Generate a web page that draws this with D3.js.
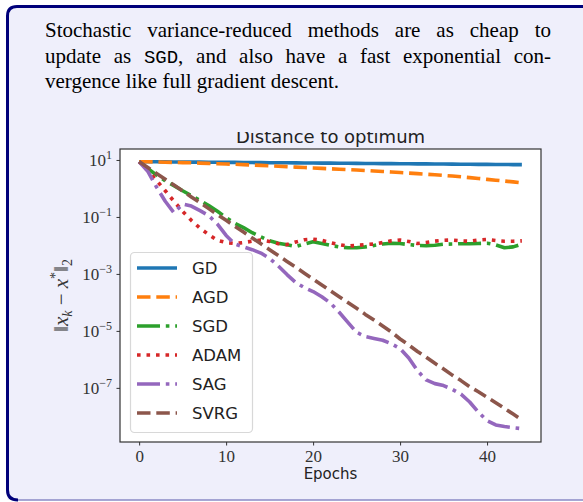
<!DOCTYPE html>
<html>
<head>
<meta charset="utf-8">
<script src="https://cdn.jsdelivr.net/npm/d3@7"></script>
<style>
  html, body { margin: 0; padding: 0; background: #ffffff; }
  svg { display: block; }
</style>
</head>
<body>
<div id="my_dataviz"></div>
<script>
// data (one value per epoch)
var epochs = d3.range(0, 45);

var gdVals = [8.71, 8.66, 8.62, 8.57, 8.52, 8.48, 8.43, 8.38, 8.34, 8.29, 8.25, 8.20, 8.16, 8.11, 8.07,
  8.02, 7.98, 7.94, 7.89, 7.85, 7.81, 7.76, 7.72, 7.68, 7.64, 7.60, 7.55, 7.51, 7.47, 7.43,
  7.39, 7.35, 7.31, 7.27, 7.23, 7.19, 7.15, 7.11, 7.07, 7.03, 6.99, 6.96, 6.92, 6.88, 6.84];

var agdVals = [8.71, 8.61, 8.51, 8.36, 8.22, 8.09, 7.94, 7.76, 7.59, 7.41, 7.24, 7.05, 6.84, 6.64, 6.46,
  6.24, 6.03, 5.82, 5.62, 5.43, 5.25, 5.07, 4.90, 4.73, 4.57, 4.42, 4.27, 4.10, 3.94, 3.78,
  3.63, 3.47, 3.31, 3.16, 3.02, 2.87, 2.72, 2.56, 2.40, 2.24, 2.09, 1.95, 1.82, 1.70, 1.58];

var sgdVals = [8.71, 5.0, 2.95, 1.86, 1.26, 0.83, 0.56, 0.38, 0.25, 0.158, 9.5e-2, 6.0e-2, 4.2e-2, 2.8e-2, 2.0e-2,
  1.45e-2, 1.2e-2, 1.05e-2, 9.1e-3, 1.12e-2, 1.35e-2, 1.17e-2, 1.0e-2, 8.9e-3, 8.3e-3, 8.3e-3, 8.9e-3, 1.0e-2, 1.12e-2, 1.2e-2,
  1.17e-2, 1.07e-2, 1.0e-2, 9.8e-3, 1.02e-2, 1.1e-2, 1.12e-2, 1.15e-2, 1.15e-2, 1.17e-2, 1.2e-2, 1.05e-2, 8.3e-3, 8.9e-3, 1.12e-2];

var adamVals = [8.71, 4.17, 1.91, 0.83, 0.355, 0.158, 7.6e-2, 4.0e-2, 2.4e-2, 1.51e-2, 1.26e-2, 1.17e-2, 1.26e-2, 1.41e-2, 1.55e-2,
  1.38e-2, 1.15e-2, 1.07e-2, 1.32e-2, 1.58e-2, 1.66e-2, 1.51e-2, 1.26e-2, 1.07e-2, 9.5e-3, 1.0e-2, 1.07e-2, 1.12e-2, 1.26e-2, 1.45e-2,
  1.55e-2, 1.38e-2, 1.17e-2, 1.26e-2, 1.41e-2, 1.51e-2, 1.55e-2, 1.45e-2, 1.41e-2, 1.55e-2, 1.62e-2, 1.48e-2, 1.41e-2, 1.41e-2, 1.45e-2];

var sagVals = [8.71, 3.98, 1.12, 0.355, 0.141, 0.282, 0.240, 0.166, 0.112, 5.6e-2, 2.24e-2, 1.12e-2, 8.9e-3, 7.1e-3, 5.4e-3,
  3.5e-3, 1.9e-3, 9.5e-4, 5.0e-4, 3.3e-4, 2.4e-4, 1.58e-4, 9.5e-5, 4.5e-5, 2.0e-5, 8.9e-6, 6.3e-6, 5.4e-6, 4.7e-6, 3.5e-6,
  2.4e-6, 1.12e-6, 4.0e-7, 1.9e-7, 1.41e-7, 1.2e-7, 8.9e-8, 6.0e-8, 3.2e-8, 1.41e-8, 7.1e-9, 5.0e-9, 4.4e-9, 4.0e-9, 3.7e-9];

var svrgVals = [8.71, 5.42, 3.37, 2.10, 1.31, 0.813, 0.506, 0.315, 0.196, 0.122, 7.6e-2, 4.7e-2, 2.94e-2, 1.83e-2, 1.14e-2,
  7.1e-3, 4.4e-3, 2.74e-3, 1.71e-3, 1.06e-3, 6.6e-4, 4.1e-4, 2.56e-4, 1.59e-4, 9.9e-5, 6.2e-5, 3.8e-5, 2.39e-5, 1.49e-5, 9.2e-6,
  5.2e-6, 3.2e-6, 1.9e-6, 1.2e-6, 7.3e-7, 4.6e-7, 2.8e-7, 1.8e-7, 1.1e-7, 7.3e-8, 4.7e-8, 3.0e-8, 1.9e-8, 1.2e-8, 7.5e-9];

var seriesNames = ["GD", "AGD", "SGD", "ADAM", "SAG", "SVRG"];
var seriesVals = [gdVals, agdVals, sgdVals, adamVals, sagVals, svrgVals];
var seriesColors = ["#1f77b4", "#ff7f0e", "#2ca02c", "#d62728", "#9467bd", "#8c564b"];
var seriesDash = [null, "13.5,5.8", "23,5.8,3.6,5.8", "3.6,5.9", "23,5.8,3.6,5.8", "13.5,5.8"];

var xTicks = [0, 10, 20, 30, 40];
var yTickExps = [1, -1, -3, -5, -7];

var introLines = [
  ["Stochastic variance-reduced methods are as cheap to"],
  ["update as ", "SGD", ", and also have a fast exponential con-"],
  ["vergence like full gradient descent."]
];

// page
var W = 583, H = 502;
var svg = d3.select("#my_dataviz")
  .append("svg")
    .attr("width", W)
    .attr("height", H);

// the framed box
svg.append("rect")
  .attr("x", 0).attr("y", 0).attr("width", W).attr("height", H)
  .attr("fill", "#ffffff");
svg.append("path")
  .attr("d", "M7.5,500 L7.5,16 Q7.5,6.5 17,6.5 L583,6.5 L583,500 Z")
  .attr("fill", "#efeffb");
svg.append("path")
  .attr("d", "M18,500 Q7.5,500 7.5,490 L7.5,16 Q7.5,6.5 17,6.5 L583,6.5")
  .attr("fill", "none")
  .attr("stroke", "#00007a")
  .attr("stroke-width", 3);
svg.append("line")
  .attr("x1", 18).attr("x2", 583).attr("y1", 500).attr("y2", 500)
  .attr("stroke", "#8a8ac6")
  .attr("stroke-width", 1.5);

// intro text, first two lines justified to the right margin by word spacing
var introY = [37, 62.5, 88];
var textLeft = 45, textRight = 551;
introLines.forEach(function(parts, i) {
  var t = svg.append("text")
    .attr("x", textLeft)
    .attr("y", introY[i])
    .style("font-family", "'Liberation Serif'")
    .style("font-size", "21px")
    .attr("fill", "#000");
  parts.forEach(function(p) {
    var s = t.append("tspan").text(p);
    if (p == "SGD") {
      s.style("font-family", "'Liberation Mono'").style("font-size", "19px");
    }
  });
  if (i < 2) {
    var natural = t.node().getComputedTextLength();
    var nSpaces = parts.join("").split(" ").length - 1;
    t.style("word-spacing", ((textRight - textLeft - natural) / nSpaces) + "px");
  }
});

// set the dimensions and margins of the graph
var margin = {top: 149, right: 42, bottom: 60, left: 120},
    width = W - margin.left - margin.right,
    height = H - margin.top - margin.bottom;

var g = svg.append("g")
  .attr("transform", "translate(" + margin.left + "," + margin.top + ")");

var x = d3.scaleLinear()
  .domain([-2.2, 46.2])
  .range([0, width]);

var y = d3.scaleLog()
  .domain([Math.pow(10, -8.9), Math.pow(10, 1.385)])
  .range([height, 0]);

g.append("rect")
  .attr("width", width).attr("height", height)
  .attr("fill", "#ffffff");

g.append("defs").append("clipPath").attr("id", "plotclip")
  .append("rect").attr("width", width).attr("height", height);

// lines
var line = d3.line()
  .x(function(d) { return x(d[0]); })
  .y(function(d) { return y(d[1]); });

var plot = g.append("g").attr("clip-path", "url(#plotclip)");
seriesVals.forEach(function(vals, i) {
  var pts = epochs.map(function(e, j) { return [e, vals[j]]; });
  plot.append("path")
    .datum(pts)
    .attr("d", line)
    .attr("fill", "none")
    .attr("stroke", seriesColors[i])
    .attr("stroke-width", 3.6)
    .attr("stroke-linejoin", "round")
    .attr("stroke-dasharray", seriesDash[i]);
});

// X axis
var xAxis = g.append("g")
  .attr("transform", "translate(0," + height + ")")
  .call(d3.axisBottom(x).tickValues(xTicks).tickSize(3.5).tickPadding(4));
xAxis.select(".domain").remove();
xAxis.selectAll("text")
  .attr("font-family", "'Liberation Serif', 'DejaVu Serif', serif")
  .attr("font-size", 17)
  .attr("fill", "#333");
xAxis.selectAll("line").attr("stroke", "#333");

// Y axis
var yAxis = g.append("g")
  .call(d3.axisLeft(y)
    .tickValues(yTickExps.map(function(e) { return Math.pow(10, e); }))
    .tickSize(3.5)
    .tickFormat(""));
yAxis.select(".domain").remove();
yAxis.selectAll("line").attr("stroke", "#333");
yAxis.selectAll(".tick").each(function(d, i) {
  var t = d3.select(this).append("text")
    .attr("x", -8)
    .attr("y", 6)
    .attr("text-anchor", "end")
    .attr("font-family", "'Liberation Serif', 'DejaVu Serif', serif")
    .attr("font-size", 17)
    .attr("fill", "#333");
  t.append("tspan").text("10");
  t.append("tspan")
    .attr("dy", -7)
    .attr("font-size", 12)
    .text(String(yTickExps[i]).replace("-", "\u2212"));
});

// frame
g.append("rect")
  .attr("width", width).attr("height", height)
  .attr("fill", "none")
  .attr("stroke", "#333")
  .attr("stroke-width", 1.2);

// title (its top is cut off in the picture)
svg.append("defs").append("clipPath").attr("id", "titleclip")
  .append("rect").attr("x", 0).attr("y", 132).attr("width", W).attr("height", 16);
svg.append("text")
  .attr("clip-path", "url(#titleclip)")
  .attr("x", margin.left + width / 2)
  .attr("y", 143)
  .attr("text-anchor", "middle")
  .attr("font-family", "'DejaVu Sans', sans-serif")
  .attr("font-size", 18)
  .attr("fill", "#222")
  .text("Distance to optimum");

// x label
svg.append("text")
  .attr("x", margin.left + width / 2)
  .attr("y", 479)
  .attr("text-anchor", "middle")
  .attr("font-family", "'DejaVu Sans', sans-serif")
  .attr("font-size", 15)
  .attr("fill", "#222")
  .text("Epochs");

// y label  ||x_k - x*||_2
var yl = svg.append("text")
  .attr("transform", "translate(68," + (margin.top + height / 2) + ") rotate(-90)")
  .attr("text-anchor", "middle")
  .attr("font-family", "'Liberation Serif', 'DejaVu Serif', serif")
  .attr("font-size", 21)
  .attr("fill", "#333");
yl.append("tspan").text("\u2016");
yl.append("tspan").attr("font-style", "italic").text("x");
yl.append("tspan").attr("font-style", "italic").attr("font-size", 14).attr("dy", 4).text("k");
yl.append("tspan").attr("dy", -4).text(" \u2212 ");
yl.append("tspan").attr("font-style", "italic").text("x");
yl.append("tspan").attr("font-size", 14).attr("dy", -8).text("*");
yl.append("tspan").attr("dy", 8).text("\u2016");
yl.append("tspan").attr("font-size", 14).attr("dy", 4).text("2");

// legend
var leg = svg.append("g");
leg.append("rect")
  .attr("x", 130.5).attr("y", 252.5)
  .attr("width", 122).attr("height", 180)
  .attr("rx", 4)
  .attr("fill", "#ffffff")
  .attr("fill-opacity", 0.85)
  .attr("stroke", "#d8d8d8")
  .attr("stroke-width", 1.2);
seriesNames.forEach(function(name, i) {
  var yy = 268 + i * 29;
  leg.append("line")
    .attr("x1", 137).attr("x2", 177)
    .attr("y1", yy).attr("y2", yy)
    .attr("stroke", seriesColors[i])
    .attr("stroke-width", 3.6)
    .attr("stroke-dasharray", seriesDash[i]);
  leg.append("text")
    .attr("x", 192)
    .attr("y", yy)
    .attr("dy", "0.36em")
    .attr("font-family", "'DejaVu Sans', sans-serif")
    .attr("font-size", 16.5)
    .attr("fill", "#222")
    .text(name);
});
</script>
</body>
</html>
